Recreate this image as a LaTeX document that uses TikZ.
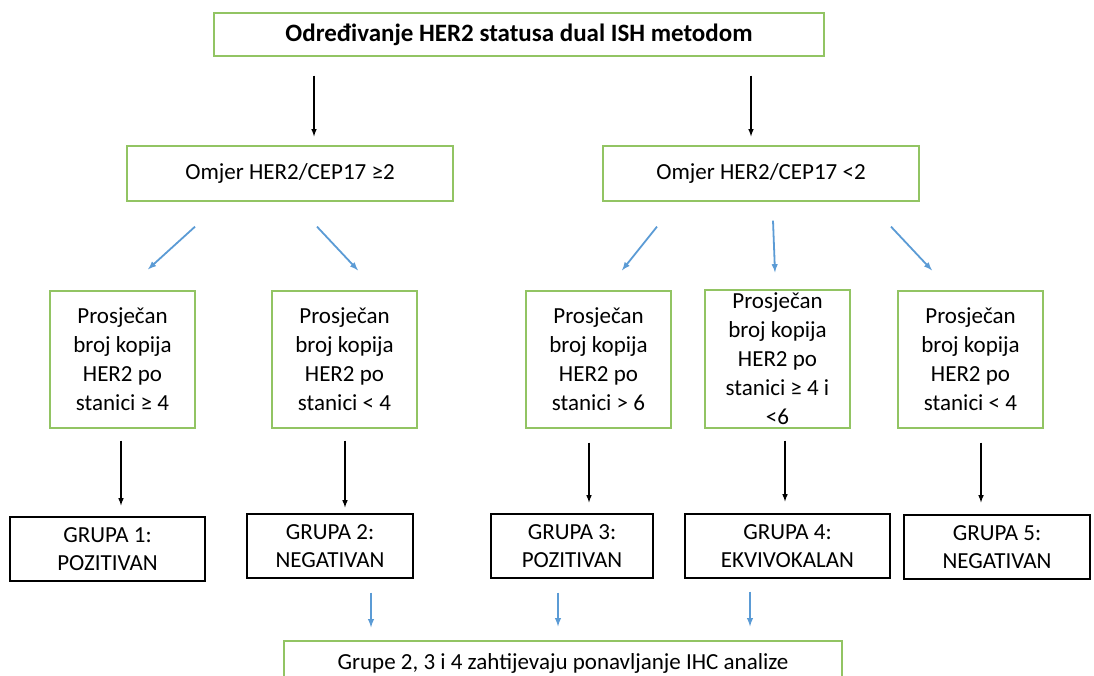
\documentclass[tikz,border=0pt]{standalone}
\usepackage{fontspec}
\setmainfont{Carlito}
\usepackage{tikz}
\definecolor{boxgreen}{RGB}{146,196,99}
\definecolor{arrowblue}{RGB}{91,155,213}

\begin{document}
\begin{tikzpicture}[x=1pt,y=-1pt,
  greenbox/.style={draw=boxgreen,line width=1.3pt,align=center,inner sep=0pt,font=\fontsize{23}{29}\selectfont},
  blackbox/.style={draw=black,line width=1.1pt,align=center,inner sep=0pt,font=\fontsize{23}{28}\selectfont},
  blk/.style={line width=1.5pt,-{latex}},
  blu/.style={arrowblue,line width=1.8pt,-{latex}}]

\clip (0,0) rectangle (1094,675);

\node [greenbox,minimum width=610,minimum height=43,font=\fontsize{25}{29}\selectfont\bfseries] (title) at (519,34.5) {Određivanje HER2 statusa dual ISH metodom};

\node [greenbox,minimum width=326,minimum height=55] (ratiohi) at (290,173.5) {Omjer HER2/CEP17 ≥2};
\node [greenbox,minimum width=316,minimum height=55] (ratiolo) at (761,173.5) {Omjer HER2/CEP17 <2};

\node [greenbox,minimum width=145,minimum height=137] (copy1) at (122.5,359.5) {Prosječan\\broj kopija\\HER2 po\\stanici ≥ 4};
\node [greenbox,minimum width=145,minimum height=137] (copy2) at (344.5,359.5) {Prosječan\\broj kopija\\HER2 po\\stanici < 4};
\node [greenbox,minimum width=145,minimum height=137] (copy3) at (598.5,359.5) {Prosječan\\broj kopija\\HER2 po\\stanici > 6};
\node [greenbox,minimum width=145,minimum height=138] (copy4) at (777.5,359) {Prosječan\\broj kopija\\HER2 po\\stanici ≥ 4 i\\<6};
\node [greenbox,minimum width=145,minimum height=137] (copy5) at (970.5,359.5) {Prosječan\\broj kopija\\HER2 po\\stanici < 4};

\node [blackbox,minimum width=195,minimum height=64] (grupa1) at (107.5,549) {GRUPA 1:\\POZITIVAN};
\node [blackbox,minimum width=166,minimum height=64] (grupa2) at (330,546) {GRUPA 2:\\NEGATIVAN};
\node [blackbox,minimum width=162,minimum height=64] (grupa3) at (572,546) {GRUPA 3:\\POZITIVAN};
\node [blackbox,minimum width=205,minimum height=64] (grupa4) at (787.5,546) {GRUPA 4:\\EKVIVOKALAN};
\node [blackbox,minimum width=186,minimum height=64] (grupa5) at (997,547) {GRUPA 5:\\NEGATIVAN};

\node [greenbox,minimum width=558,minimum height=44] (ihc) at (563,663) {Grupe 2, 3 i 4 zahtijevaju ponavljanje IHC analize};

\draw [blk] ([shift={(-205,19)}]title.south) -- ([shift={(24,-9)}]ratiohi.north);
\draw [blk] ([shift={(232,19)}]title.south) -- ([shift={(-10,-9)}]ratiolo.north);

\draw [blu] ([shift={(-95,25)}]ratiohi.south) -- ([shift={(25.5,-21)}]copy1.north);
\draw [blu] ([shift={(27,25)}]ratiohi.south) -- ([shift={(13.5,-20)}]copy2.north);
\draw [blu] ([shift={(-104,25)}]ratiolo.south) -- ([shift={(23.5,-20)}]copy3.north);
\draw [blu] ([shift={(12,19)}]ratiolo.south) -- ([shift={(-2.5,-17)}]copy4.north);
\draw [blu] ([shift={(130,25)}]ratiolo.south) -- ([shift={(-38.5,-20)}]copy5.north);

\draw [blk] ([shift={(-1.5,12)}]copy1.south) -- ([shift={(13.5,-11)}]grupa1.north);
\draw [blk] ([shift={(0.5,12)}]copy2.south) -- ([shift={(15,-6)}]grupa2.north);
\draw [blk] ([shift={(-9.5,14)}]copy3.south) -- ([shift={(17,-11)}]grupa3.north);
\draw [blk] ([shift={(7.5,12)}]copy4.south) -- ([shift={(-2.5,-12)}]grupa4.north);
\draw [blk] ([shift={(10.5,14)}]copy5.south) -- ([shift={(-16,-12)}]grupa5.north);

\draw [blu] ([shift={(41,14)}]grupa2.south) -- ([shift={(-192,-13)}]ihc.north);
\draw [blu] ([shift={(-14,14)}]grupa3.south) -- ([shift={(-5,-14)}]ihc.north);
\draw [blu] ([shift={(-37.5,13)}]grupa4.south) -- ([shift={(187,-14)}]ihc.north);
\end{tikzpicture}
\end{document}
